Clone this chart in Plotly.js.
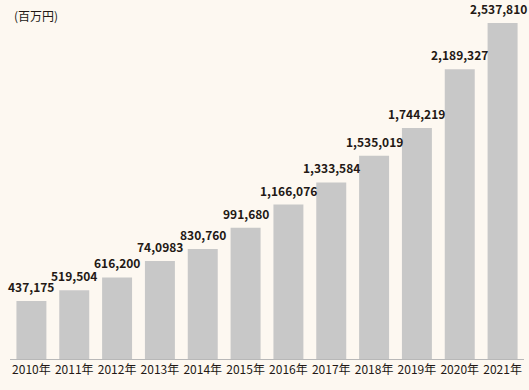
<!DOCTYPE html>
<html><head><meta charset="utf-8">
<script src="https://cdn.plot.ly/plotly-3.0.1.min.js"></script>
<style>html,body{margin:0;padding:0;background:#fdf8f1;}</style>
</head><body>
<div id="chart" style="width:529px;height:390px;"></div>
<script>
const years = ["2010年","2011年","2012年","2013年","2014年","2015年","2016年","2017年","2018年","2019年","2020年","2021年"];
const values = [437175, 519504, 616200, 740983, 830760, 991680, 1166076, 1333584, 1535019, 1744219, 2189327, 2537810];
const valueLabels = ["437,175","519,504","616,200","74,0983","830,760","991,680","1,166,076","1,333,584","1,535,019","1,744,219","2,189,327","2,537,810"];
const unitLabel = "(百万円)";

const font = "'Noto Sans CJK JP', 'Noto Sans', sans-serif";
const labelAnns = years.map((yr, i) => ({
  x: yr, y: values[i], xref: 'x', yref: 'y',
  text: valueLabels[i], showarrow: false,
  xanchor: 'center', yanchor: 'bottom', yshift: 4,
  xshift: i === years.length - 1 ? -4 : 0,
  font: {family: font, size: 12, color: '#231815', weight: 'bold'}
}));
labelAnns.push({
  text: unitLabel, xref: 'paper', yref: 'paper', x: 0.004, y: 1.015,
  xanchor: 'left', yanchor: 'top', showarrow: false,
  font: {family: font, size: 12, color: '#231815'}
});

Plotly.newPlot('chart', [{
  type: 'bar',
  x: years,
  y: values,
  marker: {color: '#c8c8c8'},
  width: 0.7,
  hoverinfo: 'none'
}], {
  width: 529, height: 390,
  margin: {l: 10, r: 5, t: 10, b: 31},
  paper_bgcolor: '#fdf8f1',
  plot_bgcolor: '#fdf8f1',
  showlegend: false,
  xaxis: {
    type: 'category', range: [-0.5, 11.5],
    showline: true, linecolor: '#b8b8b8', linewidth: 1,
    ticks: '', tickfont: {family: font, size: 12, color: '#231815'},
    showgrid: false, zeroline: false
  },
  yaxis: {
    range: [0, 2636000], visible: false, showgrid: false, zeroline: false
  },
  annotations: labelAnns
}, {displayModeBar: false, staticPlot: true});
</script>
</body></html>
